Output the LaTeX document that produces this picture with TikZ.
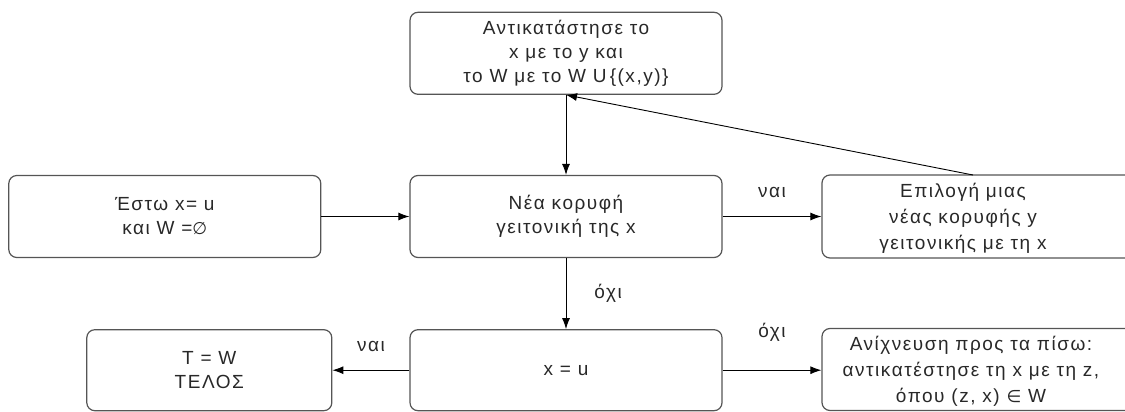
\documentclass[tikz,border=0pt]{standalone}
\usepackage{fontspec}
\setmainfont{Liberation Sans}[LetterSpace=8]
\newfontfamily\symfam{DejaVu Sans}
\usetikzlibrary{positioning,arrows.meta,fit}
\definecolor{edge}{RGB}{85,85,85}
\definecolor{ink}{RGB}{40,40,40}

\begin{document}
\begin{tikzpicture}[x=1pt,y=-1pt,
                  box/.style={draw=edge,line width=1.2pt,rounded corners=8pt,minimum width=312pt,minimum height=82pt,align=center,inner sep=0pt,text=ink,font=\fontsize{19}{24}\selectfont},
                  txt/.style={align=center,inner sep=0pt,text=ink,font=\fontsize{19}{26}\selectfont},
                  lbl/.style={inner sep=0pt,text=ink,font=\fontsize{19}{20}\selectfont},
                  arr/.style={-{Latex[length=11pt,width=8pt]},line width=0.9pt}
                ]
                \useasboundingbox (0,0) rectangle (1125,412);
                \clip (0,0) rectangle (1125,412);
                \node[box] (next) at (566,216.5) {Νέα κορυφή\\γειτονική της x};
                \node[box,above=80pt of next] (repl) {Αντικατάστησε το\\x με το y και\\το W με το W U\,\{(x,y)\}};
                \node[box,left=88pt of next] (start) {Έστω x= u\\και W ={\symfam\fontsize{17}{20}\selectfont ∅}};
                \node[box,minimum height=81pt,below=71pt of next] (xu) {x = u};
                \node[box,minimum width=245pt,minimum height=81pt,left=77pt of xu] (finish) {T = W\\ΤΕΛΟΣ};
                \node[box,fit={(822,175) (1140,258)}] (pick) {};
                \node[txt] (pickTxt) at (963,218) {Επιλογή μιας\\νέας κορυφής y\\γειτονικής με τη x};
                \node[box,fit={(822,329) (1140,410)}] (back) {};
                \node[txt] (backTxt) at (971,371) {Ανίχνευση προς τα πίσω:\\αντικατέστησε τη x με τη z,\\όπου (z, x) {\symfam\fontsize{17}{20}\selectfont ∈} W};

                \draw[arr] (repl) -- (next);
                \draw[arr] (start) -- (next);
                \draw[arr] (next) -- node[lbl,above=18pt] (yesA) {ναι} (pick.west |- next.east);
                \draw[arr] (next) -- node[lbl,right=28pt] (noA) {όχι} (xu);
                \draw[arr] (xu) -- node[lbl,above=18pt] (yesB) {ναι} (finish);
                \draw[arr] (xu) -- node[lbl,above=28pt] (noB) {όχι} (back.west |- xu.east);
                \draw[arr] (973,175) coordinate (pickTop) -- (repl.south);
                \end{tikzpicture}
\end{document}
